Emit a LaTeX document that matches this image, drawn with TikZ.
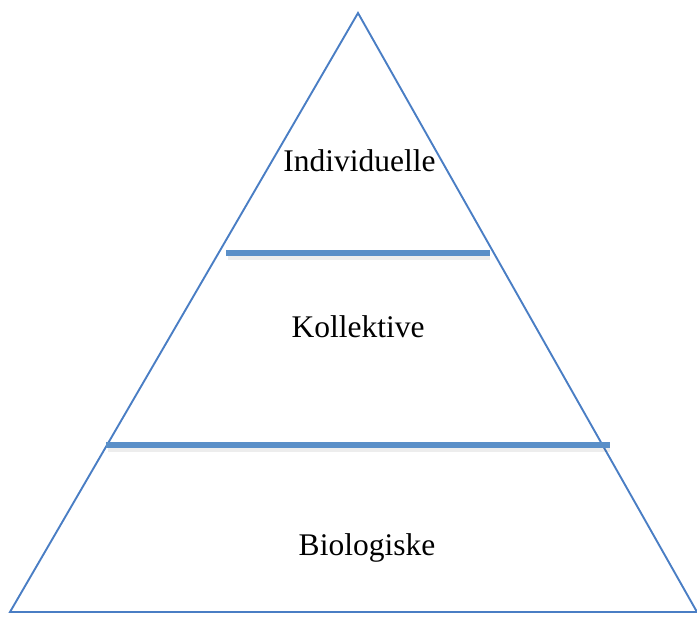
\documentclass[tikz,border=0pt]{standalone}
\usepackage{fontspec}
\setmainfont{Liberation Serif}
\definecolor{edgeblue}{HTML}{4A7EC4}
\definecolor{barblue}{HTML}{5A8FC8}
\begin{document}
\begin{tikzpicture}[x=1pt,y=-1pt,
  edge/.style={draw=edgeblue,line width=1.9pt,line join=miter},
  bar/.style={draw=barblue,line width=5.4pt},
  barshadow/.style={draw=black,opacity=0.07,line width=8pt},
  label/.style={anchor=base,font=\fontsize{31.5}{34}\selectfont,inner sep=0pt}]
\useasboundingbox (0,0) rectangle (697,617);
\coordinate (apex) at (358,13);
\coordinate (bl) at (10,612);
\coordinate (br) at (697,612);
\coordinate (b1l) at (226,253);
\coordinate (b1r) at (490,253);
\coordinate (b2l) at (106,445);
\coordinate (b2r) at (610,445);
\draw[edge] (bl) -- (apex) -- (br) -- cycle;
\draw[barshadow] ([shift={(2,3)}]b1l) -- ([shift={(0,3)}]b1r);
\draw[barshadow] ([shift={(2,3)}]b2l) -- ([shift={(0,3)}]b2r);
\draw[bar] (b1l) -- (b1r);
\draw[bar] (b2l) -- (b2r);
\node[label] (ind) at (359.5,172) {Individuelle};
\node[label] (kol) at (358,337.5) {Kollektive};
\node[label] (bio) at (367,555.5) {Biologiske};
\end{tikzpicture}
\end{document}
